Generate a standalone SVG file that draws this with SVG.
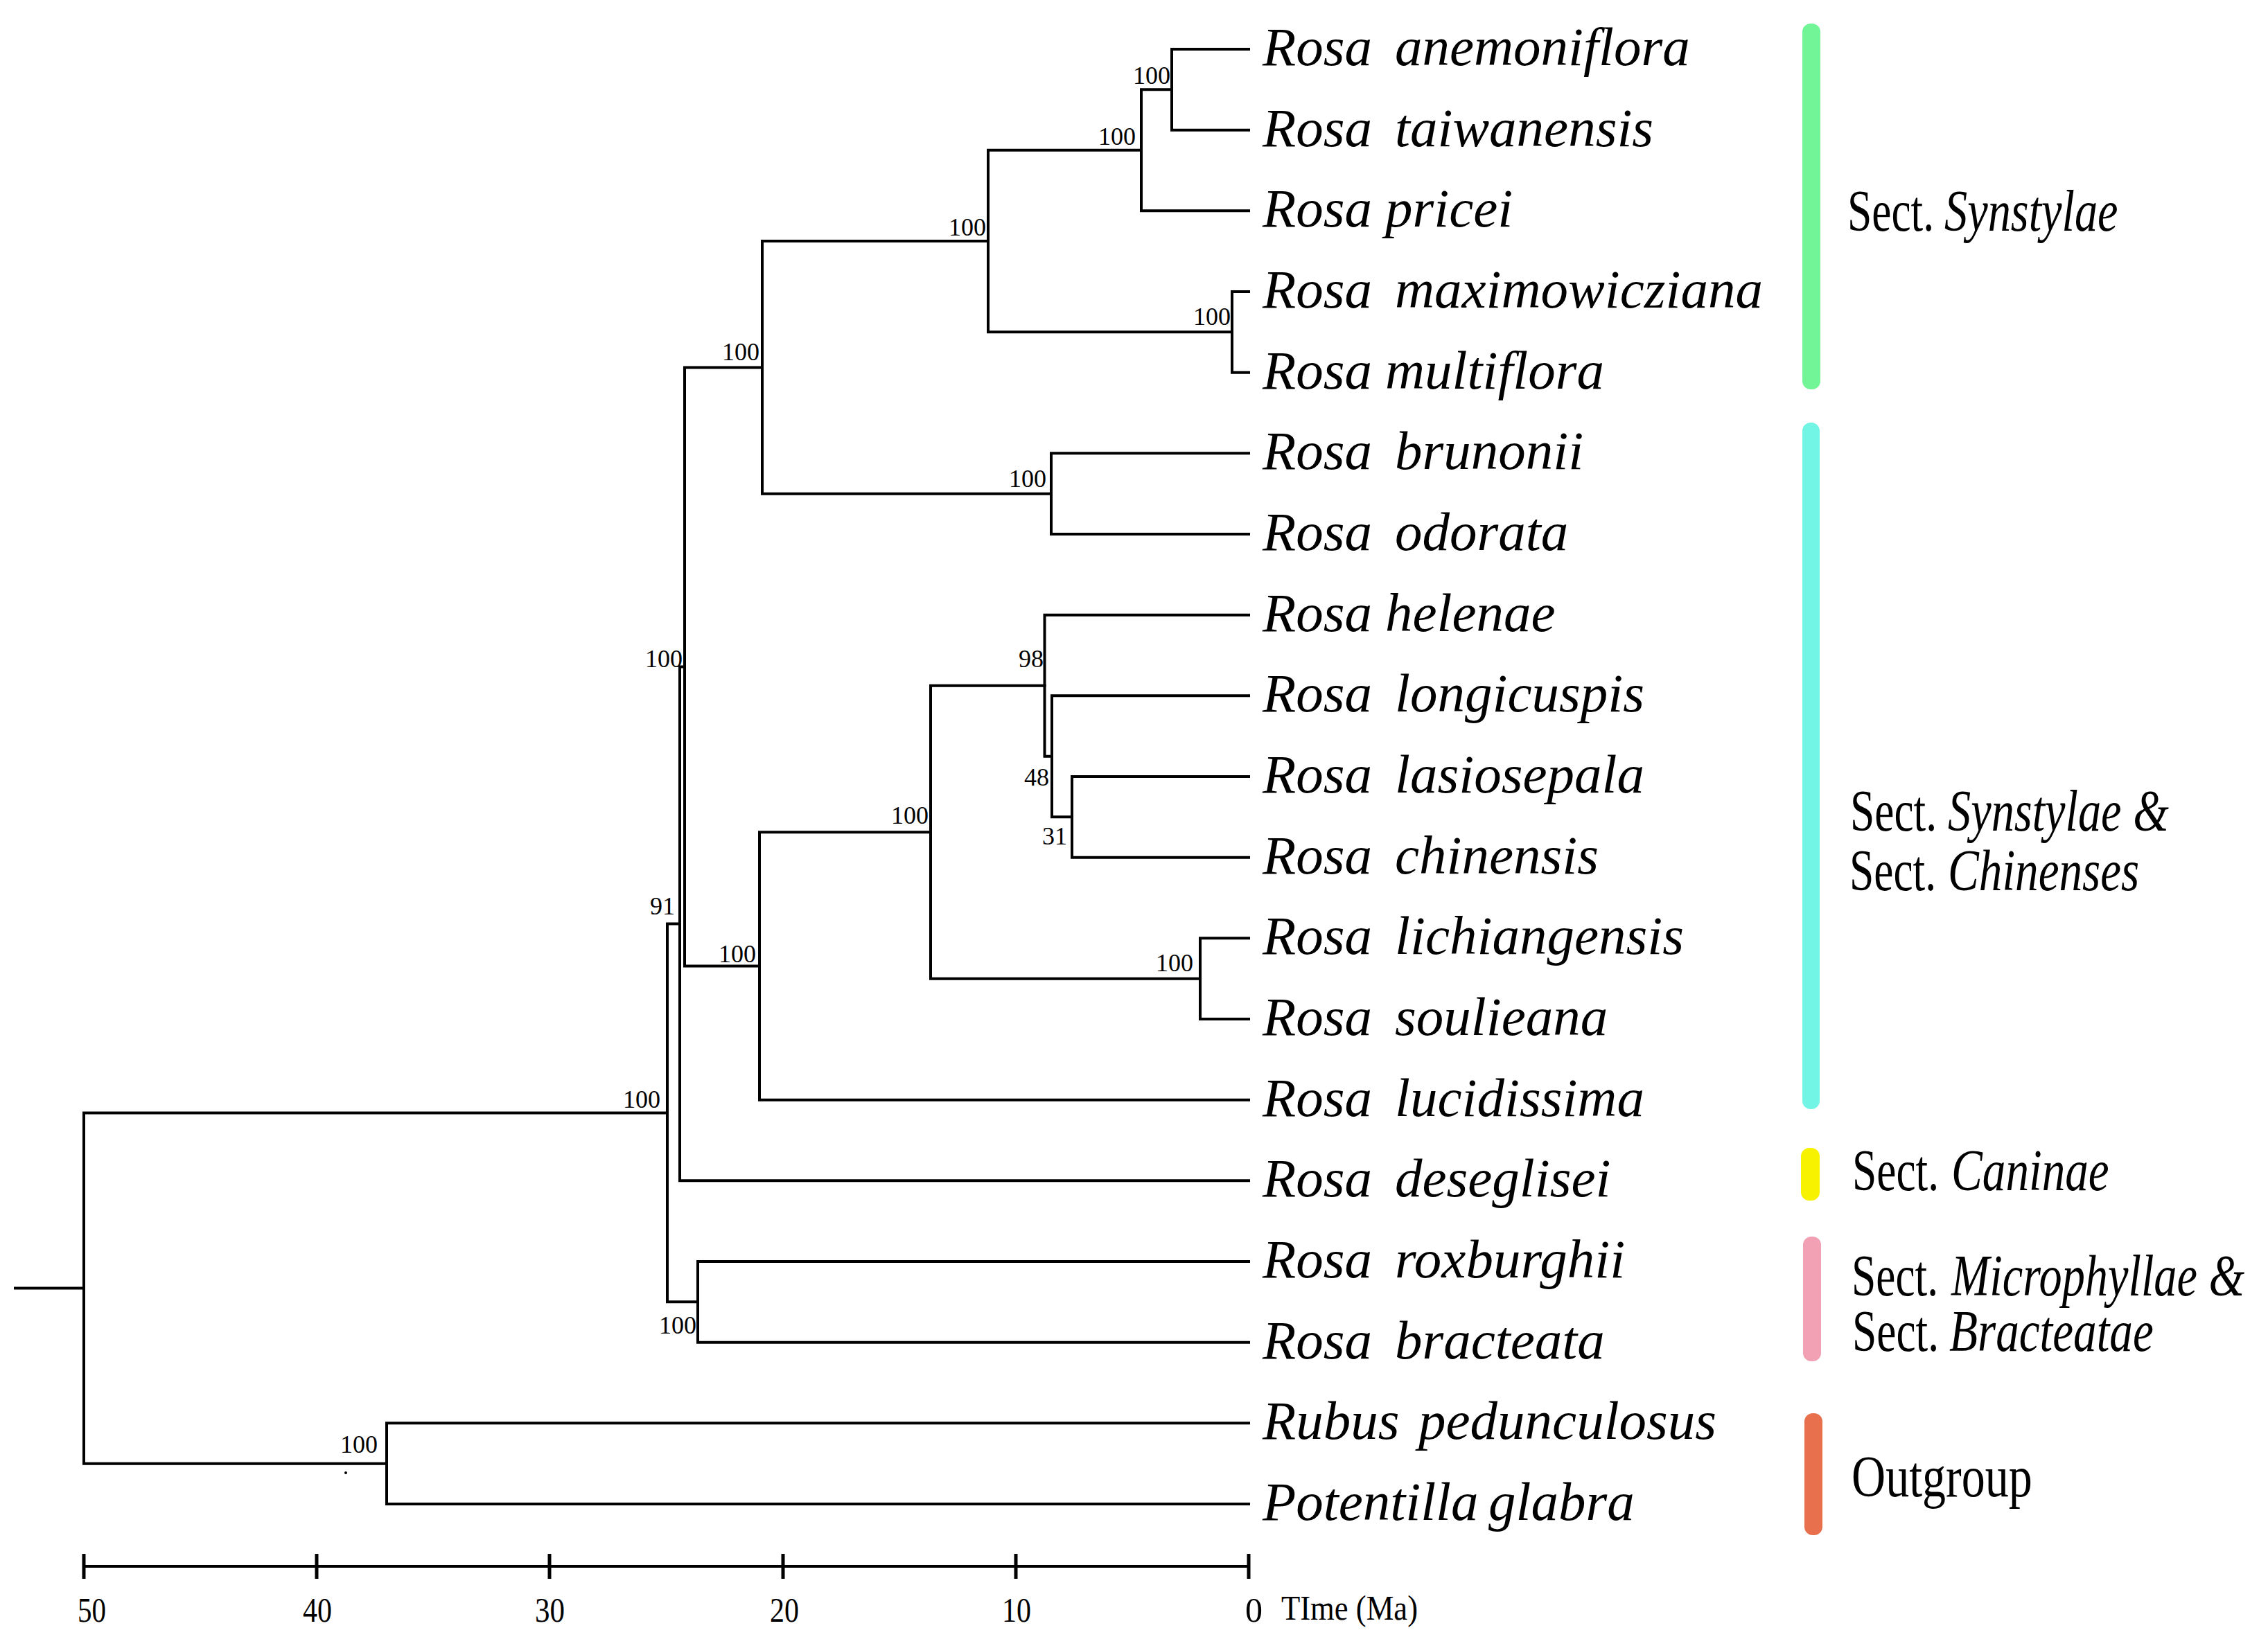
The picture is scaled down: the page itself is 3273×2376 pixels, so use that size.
<svg xmlns="http://www.w3.org/2000/svg" width="3273" height="2376" viewBox="0 0 3273 2376">
<style>
.br{fill:none;stroke:#000;stroke-width:4;stroke-linecap:square}
.lf{font-family:"Liberation Serif",serif;font-style:italic;font-size:79px;fill:#000}
.bs{font-family:"Liberation Serif",serif;font-size:36px;fill:#000;text-anchor:end}
.sect{font-family:"Liberation Serif",serif;font-size:84px;fill:#000}
.it{font-style:italic}
.ax{font-family:"Liberation Serif",serif;font-size:50px;fill:#000}
.tk{stroke:#000;stroke-width:5}
</style>
<rect width="3273" height="2376" fill="#fff"/>
<g id="connectors">
<path class="br" d="M1691 71V187.67M1691 71H1802M1691 187.67H1802"/>
<path class="br" d="M1647 129.33V304.33M1647 129.33H1691M1647 304.33H1802"/>
<path class="br" d="M1778 421V537.67M1778 421H1802M1778 537.67H1802"/>
<path class="br" d="M1426 216.83V479.33M1426 216.83H1647M1426 479.33H1778"/>
<path class="br" d="M1517 654.33V771M1517 654.33H1802M1517 771H1802"/>
<path class="br" d="M1100 348.08V712.67M1100 348.08H1426M1100 712.67H1517"/>
<path class="br" d="M1547 1121V1237.67M1547 1121H1802M1547 1237.67H1802"/>
<path class="br" d="M1518 1004.33V1179.33M1518 1004.33H1802M1518 1179.33H1547"/>
<path class="br" d="M1507.5 887.67V1091.83M1507.5 887.67H1802M1507.5 1091.83H1518"/>
<path class="br" d="M1732 1354.33V1471M1732 1354.33H1802M1732 1471H1802"/>
<path class="br" d="M1343 989.75V1412.67M1343 989.75H1507.5M1343 1412.67H1732"/>
<path class="br" d="M1096 1201.2V1587.67M1096 1201.2H1343M1096 1587.67H1802"/>
<path class="br" d="M988 530.4V1394.4M988 530.4H1100M988 1394.4H1096"/>
<path class="br" d="M981 962.4V1704.33M981 962.4H988M981 1704.33H1802"/>
<path class="br" d="M1007 1821V1937.67M1007 1821H1802M1007 1937.67H1802"/>
<path class="br" d="M963 1333.4V1879.33M963 1333.4H981M963 1879.33H1007"/>
<path class="br" d="M558 2054.33V2171M558 2054.33H1802M558 2171H1802"/>
<path class="br" d="M121 1606.4V2112.67M121 1606.4H963M121 2112.67H558"/>
<path class="br" d="M22 1859.5H121"/>
</g>
<g id="support-values">
<text class="bs" x="1689" y="121">100</text>
<text class="bs" x="1639" y="209">100</text>
<text class="bs" x="1423" y="340">100</text>
<text class="bs" x="1776" y="469">100</text>
<text class="bs" x="1096" y="520">100</text>
<text class="bs" x="1510" y="703">100</text>
<text class="bs" x="985" y="963">100</text>
<text class="bs" x="1506" y="963">98</text>
<text class="bs" x="1514" y="1134">48</text>
<text class="bs" x="1540" y="1219">31</text>
<text class="bs" x="1340" y="1189">100</text>
<text class="bs" x="974" y="1320">91</text>
<text class="bs" x="1091" y="1389">100</text>
<text class="bs" x="1722" y="1402">100</text>
<text class="bs" x="953" y="1599">100</text>
<text class="bs" x="1005" y="1925">100</text>
<text class="bs" x="545" y="2097">100</text>
<circle cx="499" cy="2126" r="2" fill="#000"/>
</g>
<g id="leaf-anemoniflora"><text class="lf" x="1822" y="94">Rosa<tspan x="2013">anemoniflora</tspan></text></g>
<g id="leaf-taiwanensis"><text class="lf" x="1822" y="210.67">Rosa<tspan x="2013">taiwanensis</tspan></text></g>
<g id="leaf-pricei"><text class="lf" x="1822" y="327.33">Rosa<tspan x="1999">pricei</tspan></text></g>
<g id="leaf-maximowicziana"><text class="lf" x="1822" y="444">Rosa<tspan x="2013">maximowicziana</tspan></text></g>
<g id="leaf-multiflora"><text class="lf" x="1822" y="560.67">Rosa<tspan x="1999">multiflora</tspan></text></g>
<g id="leaf-brunonii"><text class="lf" x="1822" y="677.33">Rosa<tspan x="2013">brunonii</tspan></text></g>
<g id="leaf-odorata"><text class="lf" x="1822" y="794">Rosa<tspan x="2013">odorata</tspan></text></g>
<g id="leaf-helenae"><text class="lf" x="1822" y="910.67">Rosa<tspan x="1999">helenae</tspan></text></g>
<g id="leaf-longicuspis"><text class="lf" x="1822" y="1027.33">Rosa<tspan x="2013">longicuspis</tspan></text></g>
<g id="leaf-lasiosepala"><text class="lf" x="1822" y="1144">Rosa<tspan x="2013">lasiosepala</tspan></text></g>
<g id="leaf-chinensis"><text class="lf" x="1822" y="1260.67">Rosa<tspan x="2013">chinensis</tspan></text></g>
<g id="leaf-lichiangensis"><text class="lf" x="1822" y="1377.33">Rosa<tspan x="2013">lichiangensis</tspan></text></g>
<g id="leaf-soulieana"><text class="lf" x="1822" y="1494">Rosa<tspan x="2013">soulieana</tspan></text></g>
<g id="leaf-lucidissima"><text class="lf" x="1822" y="1610.67">Rosa<tspan x="2013">lucidissima</tspan></text></g>
<g id="leaf-deseglisei"><text class="lf" x="1822" y="1727.33">Rosa<tspan x="2013">deseglisei</tspan></text></g>
<g id="leaf-roxburghii"><text class="lf" x="1822" y="1844">Rosa<tspan x="2013">roxburghii</tspan></text></g>
<g id="leaf-bracteata"><text class="lf" x="1822" y="1960.67">Rosa<tspan x="2013">bracteata</tspan></text></g>
<g id="leaf-rubus"><text class="lf" x="1822" y="2077.33">Rubus<tspan x="2047">pedunculosus</tspan></text></g>
<g id="leaf-potentilla"><text class="lf" x="1822" y="2194">Potentilla<tspan x="2148">glabra</tspan></text></g>
<g id="clade-synstylae">
<rect x="2601" y="34" width="26" height="528" rx="12" fill="#71f597"/>
<text class="sect" transform="translate(2666 333) scale(0.755 1)">Sect.</text>
<text class="sect it" transform="translate(2806 333) scale(0.79 1)">Synstylae</text>
</g>
<g id="clade-synstylae-chinenses">
<rect x="2601" y="610" width="25" height="991" rx="12" fill="#72f5e4"/>
<text class="sect" transform="translate(2670 1199) scale(0.755 1)">Sect.</text>
<text class="sect it" transform="translate(2811 1199) scale(0.79 1)">Synstylae &amp;</text>
<text class="sect" transform="translate(2669 1285) scale(0.755 1)">Sect.</text>
<text class="sect it" transform="translate(2811 1285) scale(0.8 1)">Chinenses</text>
</g>
<g id="clade-caninae">
<rect x="2599" y="1657" width="27" height="76" rx="12" fill="#f6f200"/>
<text class="sect" transform="translate(2673 1718) scale(0.755 1)">Sect.</text>
<text class="sect it" transform="translate(2816 1718) scale(0.8 1)">Caninae</text>
</g>
<g id="clade-microphyllae-bracteatae">
<rect x="2602" y="1785" width="26" height="180" rx="12" fill="#f2a1b5"/>
<text class="sect" transform="translate(2672 1870) scale(0.755 1)">Sect.</text>
<text class="sect it" transform="translate(2816 1870) scale(0.79 1)">Microphyllae &amp;</text>
<text class="sect" transform="translate(2673 1950) scale(0.755 1)">Sect.</text>
<text class="sect it" transform="translate(2813 1950) scale(0.8 1)">Bracteatae</text>
</g>
<g id="clade-outgroup">
<rect x="2604" y="2040" width="26" height="176" rx="12" fill="#e8704c"/>
<text class="sect" transform="translate(2672 2160) scale(0.81 1)">Outgroup</text>
</g>
<g id="time-axis">
<line class="br" x1="121" y1="2261" x2="1802" y2="2261"/>
<line class="tk" x1="121" y1="2243" x2="121" y2="2279"/>
<line class="tk" x1="457" y1="2243" x2="457" y2="2279"/>
<line class="tk" x1="793" y1="2243" x2="793" y2="2279"/>
<line class="tk" x1="1130" y1="2243" x2="1130" y2="2279"/>
<line class="tk" x1="1466" y1="2243" x2="1466" y2="2279"/>
<line class="tk" x1="1802" y1="2243" x2="1802" y2="2279"/>
<text class="ax" x="112" y="2341" textLength="41" lengthAdjust="spacingAndGlyphs">50</text>
<text class="ax" x="437" y="2341" textLength="42" lengthAdjust="spacingAndGlyphs">40</text>
<text class="ax" x="772" y="2341" textLength="43" lengthAdjust="spacingAndGlyphs">30</text>
<text class="ax" x="1111" y="2341" textLength="42" lengthAdjust="spacingAndGlyphs">20</text>
<text class="ax" x="1446" y="2341" textLength="42" lengthAdjust="spacingAndGlyphs">10</text>
<text class="ax" x="1797" y="2341">0</text>
<text class="ax" x="1849" y="2338" font-size="46" textLength="197" lengthAdjust="spacingAndGlyphs">TIme (Ma)</text>
</g>
</svg>
